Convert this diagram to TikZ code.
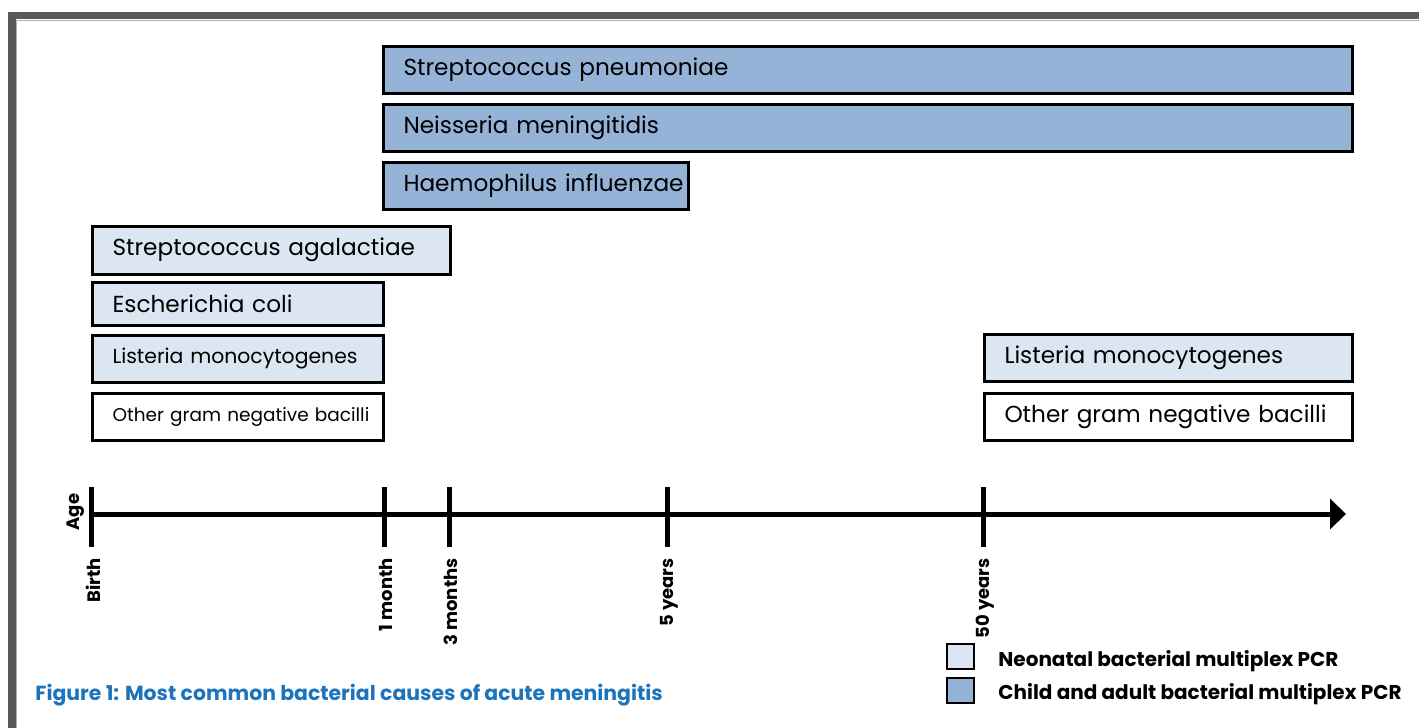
\documentclass[tikz,border=0pt]{standalone}
\usepackage{fontspec}
\setmainfont{Poppins}
\usetikzlibrary{arrows.meta, positioning}
\definecolor{framegray}{HTML}{58595B}
\definecolor{childblue}{HTML}{95B3D7}
\definecolor{neoblue}{HTML}{DCE6F2}
\definecolor{capblue}{HTML}{1C75BC}

\begin{document}
\begin{tikzpicture}[
                    x=0.5pt, y=-0.5pt,
                    bar/.style={draw, line width=1.5pt, anchor=west, align=left,
                        inner xsep=10pt, inner ysep=0pt, minimum height=23.5pt,
                        font=\fontsize{11.6}{13}\selectfont},
                    child/.style={bar, fill=childblue},
                    neo/.style={bar, fill=neoblue},
                    other/.style={bar, fill=white},
                    agetick/.style={line width=2.5pt},
                    agelabel/.style={rotate=90, anchor=east, inner sep=0pt,
                        font=\fontsize{9}{11}\bfseries},
                    keybox/.style={draw, line width=1pt, minimum width=13.5pt,
                        minimum height=12.5pt, inner sep=0pt}
                ]
                \useasboundingbox (0, 0) rectangle (1419, 728);
                \clip (0, 0) rectangle (1419, 728);
                % outer frame
                \draw[framegray, line width=3.75pt] (12, 740) -- (12, 15.5) -- (1430, 15.5);
                \draw[gray!60, line width=0.5pt] (16.5, 740) -- (16.5, 20) -- (1430, 20);

                % child and adult
                \node[child, text width=464.5pt] (pneumo) at (382, 69.5) {Streptococcus pneumoniae};
                \node[child, text width=464.5pt] (neisseria) at (382, 127.5) {Neisseria meningitidis};
                \node[child, text width=132.5pt] (haemo) at (382, 185.5) {\rlap{Haemophilus influenzae}};

                % neonatal
                \node[neo, text width=159pt, minimum height=24pt] (agalactiae) at (91, 250) {Streptococcus agalactiae};
                \node[neo, text width=125.5pt, minimum height=21.5pt] (coli) at (91, 303.5) {Escherichia coli};
                \node[neo, text width=125.5pt, font=\fontsize{10.2}{12}\selectfont] (listeriaA) at (91, 358.5) {Listeria monocytogenes};
                \node[other, text width=125.5pt, font=\fontsize{9.25}{11}\selectfont] (otherA) at (91, 417) {\rlap{Other gram negative bacilli}};

                % elderly
                \node[neo, text width=164pt] (listeriaB) at (983, 357.5) {Listeria monocytogenes};
                \node[other, text width=164pt] (otherB) at (983, 417) {Other gram negative bacilli};

                % age axis
                \coordinate (birth) at (91, 514);
                \coordinate (axisend) at (1346, 514);
                \draw[line width=2.5pt, -{Triangle[length=8pt, width=15pt]}] (birth) -- (axisend);
                \node[rotate=90, inner sep=0pt, font=\fontsize{9}{11}\bfseries] (age) at (76, 512) {Age};
                \foreach \pos/\lab [count=\i] in {91/Birth, 384/1 month, 449/3 months, 667/5 years, 983/50 years}{
                    \draw[agetick] (\pos, 487) -- (\pos, 547);
                    \node[agelabel] (tick\i) at (\pos + 2, 558) {\lab};
                }

                % key
                \node[keybox, fill=neoblue, anchor=north west] (keyneo) at (946, 643) {};
                \node[keybox, fill=childblue, anchor=north west] (keychild) at (946, 677) {};
                \node[anchor=west, inner sep=0pt, font=\fontsize{10}{12}\bfseries] (keyneotext) at (998, 661) {Neonatal bacterial multiplex PCR};
                \node[anchor=west, inner sep=0pt, font=\fontsize{10}{12}\bfseries] (keychildtext) at (998, 694) {Child and adult bacterial multiplex PCR};

                \node[anchor=west, inner sep=0pt, text=capblue, font=\fontsize{10.2}{12}\bfseries] (caption) at (35, 695) {Figure 1: Most common bacterial causes of acute meningitis};
            \end{tikzpicture}
\end{document}
